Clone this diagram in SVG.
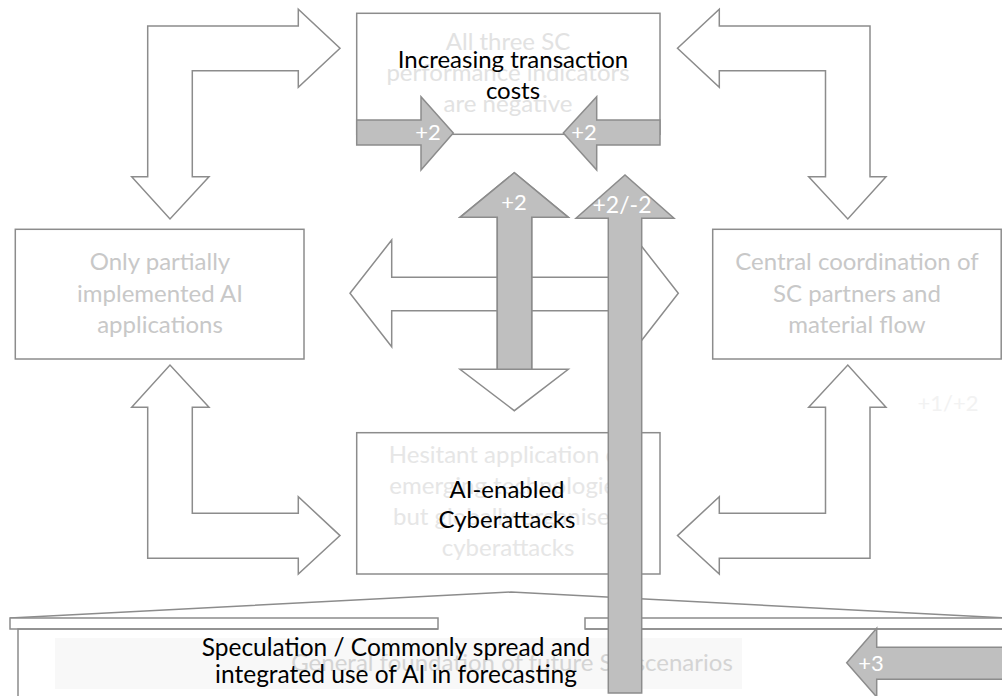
<svg xmlns="http://www.w3.org/2000/svg" width="1002" height="696" viewBox="0 0 1002 696">
  <style>
    .box { fill: #ffffff; stroke: #8c8c8c; stroke-width: 1.5; }
    .hollow { fill: #ffffff; stroke: #8c8c8c; stroke-width: 1.5; stroke-linejoin: miter; }
    .solid { fill: #bfbfbf; stroke: #8c8c8c; stroke-width: 1.5; stroke-linejoin: miter; }
    .line { fill: none; stroke: #8c8c8c; stroke-width: 1.5; }
    text { font-family: Lato, "Liberation Sans", sans-serif; text-anchor: middle; }
    .faint { font-size: 24px; fill: #e2e2e2; }
    .muted { font-size: 24px; fill: #c8c8c8; }
    .label { font-size: 24px; fill: #000000; }
    .score { font-size: 22px; fill: #ffffff; }
  </style>

  <!-- base: roof, beam and foundation slab -->
  <g id="node-foundation">
    <path class="line" d="M10,618 L511,592 L1006,618"/>
    <rect class="box" x="10" y="618" width="428" height="11"/>
    <rect class="box" x="585" y="618" width="425" height="11"/>
    <path class="line" d="M438,629 H18 V700 M585,629 H1010"/>
    <rect x="55" y="638" width="687" height="51" fill="#f8f8f8"/>
    <text class="muted" x="512" y="671" style="fill:#d4d4d4">General foundation of future SC scenarios</text>
  </g>

  <g id="node-sc-performance">
    <rect class="box" x="356.7" y="13.3" width="303.3" height="121"/>
    <text class="faint" x="508" y="50">All three SC</text>
    <text class="faint" x="508" y="81">performance indicators</text>
    <text class="faint" x="508" y="112">are negative</text>
  </g>

  <g id="node-ai-partial">
    <rect class="box" x="15.3" y="229.3" width="288.7" height="129.7"/>
    <text class="muted" x="160" y="270">Only partially</text>
    <text class="muted" x="160" y="302">implemented AI</text>
    <text class="muted" x="160" y="333">applications</text>
  </g>

  <g id="node-central-coordination">
    <rect class="box" x="712.7" y="229.3" width="288.5" height="129.7"/>
    <text class="muted" x="857" y="270">Central coordination of</text>
    <text class="muted" x="857" y="302">SC partners and</text>
    <text class="muted" x="857" y="333">material flow</text>
  </g>

  <g id="node-hesitant">
    <rect class="box" x="356.7" y="432.7" width="303.3" height="141.3"/>
    <text class="faint" x="508" y="463" style="fill:#e6e6e6">Hesitant application of</text>
    <text class="faint" x="508" y="494" style="fill:#e6e6e6">emerging technologies</text>
    <text class="faint" x="508" y="525" style="fill:#e6e6e6">but globally organised</text>
    <text class="faint" x="508" y="556" style="fill:#e6e6e6">cyberattacks</text>
  </g>

  <text x="948" y="411" style="font-size:22px;fill:#f2f2f2">+1/+2</text>

  <g id="connectors">
    <!-- hollow elbow arrows between the four outer nodes -->
    <path class="hollow" d="M147.7,176.7 V26 H298.3 V9.3 L340,48.3 L298.3,87.3 V70.7 H192.3 V176.7 H209 L170,219 L131.7,176.7 Z"/>
    <path class="hollow" d="M870,176.7 V26 H719.3 V9.3 L677.5,48.3 L719.3,87.3 V70.7 H825.5 V176.7 H808.7 L847.8,219 L886,176.7 Z"/>
    <path class="hollow" d="M147.7,407.3 V558.3 H298.3 V574 L340,535.6 L298.3,496.7 V513.3 H192.3 V407.3 H209 L170,365 L131.7,407.3 Z"/>
    <path class="hollow" d="M870,407.3 V558.3 H719.3 V574 L677.5,535.6 L719.3,496.7 V513.3 H825.5 V407.3 H808.7 L847.8,365 L886,407.3 Z"/>

    <!-- hollow cross in the centre -->
    <path class="hollow" d="M350,293.3 L391.7,240 V277.3 H636.7 V240 L678.3,293.3 L636.7,346.7 V310.7 H391.7 V346.7 Z"/>
    <path class="hollow" d="M497.3,217.3 H460 L514.3,172.7 L568.3,217.3 H531.7 V369.3 H568.3 L514.3,410.7 L460,369.3 H497.3 Z"/>

    <!-- weighted influence arrows -->
    <path class="solid" d="M356.7,120 H421 V96.7 L453.3,133 L421,170 V145 H356.7 Z"/>
    <text class="score" x="428" y="140">+2</text>
    <path class="solid" d="M660,120 H596.7 V96.7 L563.3,133 L596.7,170 V145 H660 Z"/>
    <text class="score" x="584" y="140">+2</text>

    <path class="solid" d="M497.3,369.3 V217.3 H460 L514.3,172.7 L568.3,217.3 H531.7 V369.3 Z"/>
    <text class="score" x="514" y="210">+2</text>

    <path class="solid" d="M608.3,693 V218.3 H576 L625,175 L674,218.3 H641.7 V693 Z"/>
    <text class="score" x="622" y="213" style="font-size:23px">+2/-2</text>

    <path class="solid" d="M1010,647.3 H876.7 V628.3 L846.7,662.7 L876.7,697 V679.3 H1010 Z"/>
    <text class="score" x="871" y="671">+3</text>
  </g>

  <g id="label-transaction-costs">
    <text class="label" x="513" y="68">Increasing transaction</text>
    <text class="label" x="513" y="99">costs</text>
  </g>

  <g id="label-cyberattacks">
    <text class="label" x="507" y="498">AI-enabled</text>
    <text class="label" x="507" y="528">Cyberattacks</text>
  </g>

  <g id="label-speculation">
    <text class="label" x="396" y="656" style="font-size:24.5px">Speculation / Commonly spread and</text>
    <text class="label" x="396" y="683" style="font-size:24.5px">integrated use of AI in forecasting</text>
  </g>
</svg>
